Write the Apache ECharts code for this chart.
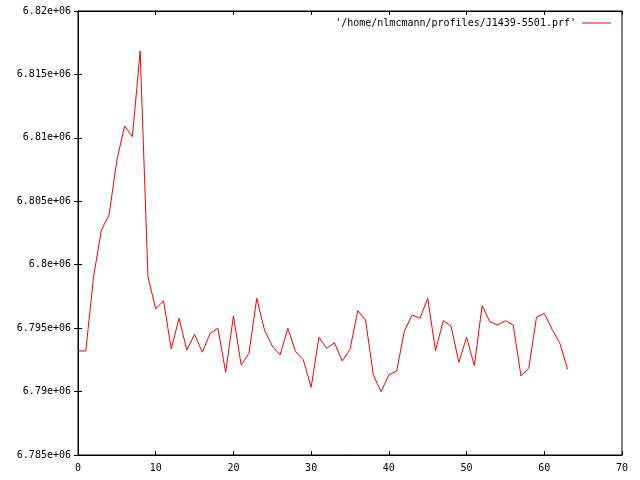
<!DOCTYPE html>
<html>
<head>
<meta charset="utf-8">
<script src="https://cdn.jsdelivr.net/npm/echarts@6/dist/echarts.min.js"></script>
<style>html,body{margin:0;padding:0;background:#fff}#c{width:640px;height:480px}</style>
</head>
<body>
<div id="c"></div>
<script>
const seriesName = "'/home/nlmcmann/profiles/J1439-5501.prf'";
const xValues = [0,1,2,3,4,5,6,7,8,9,10,11,12,13,14,15,16,17,18,19,20,21,22,23,24,25,26,27,28,29,30,31,32,33,34,35,36,37,38,39,40,41,42,43,44,45,46,47,48,49,50,51,52,53,54,55,56,57,58,59,60,61,62,63];
const yValues = [6793200,6793200,6799030,6802740,6803920,6808250,6810940,6810090,6816850,6799060,
  6796510,6797160,6793360,6795780,6793280,6794510,6793100,6794590,6794990,6791520,
  6795960,6792090,6793020,6797350,6794850,6793590,6792880,6794990,6793140,6792490,
  6790340,6794280,6793410,6793850,6792410,6793330,6796380,6795640,6791310,6789990,
  6791310,6791620,6794780,6796040,6795780,6797350,6793220,6795590,6795170,6792310,
  6794280,6792040,6796770,6795510,6795250,6795590,6795250,6791230,6791840,6795860,
  6796170,6794910,6793810,6791760];
const yTickLabels = ['6.785e+06','6.79e+06','6.795e+06','6.8e+06','6.805e+06','6.81e+06','6.815e+06','6.82e+06'];
const xTickLabels = ['0','10','20','30','40','50','60','70'];

const font = 'DejaVu Sans Mono';
const chart = echarts.init(document.getElementById('c'), null, {renderer: 'canvas'});
const tick = {show: true, inside: true, length: 4, lineStyle: {color: '#000', width: 1}};
chart.setOption({
  animation: false,
  backgroundColor: '#fff',
  textStyle: {fontFamily: font},
  grid: {left: 78, right: 18, top: 11, bottom: 25, show: true, borderColor: '#000', borderWidth: 1, backgroundColor: 'transparent'},
  legend: {
    data: [seriesName], right: 29, top: 18, padding: 0, align: 'right', icon: 'rect',
    itemWidth: 29, itemHeight: 1, itemGap: 0,
    textStyle: {fontFamily: font, fontSize: 10, color: '#000', padding: [0, 1, 0, 0]}
  },
  xAxis: [{
    type: 'value', min: 0, max: 70, interval: 10,
    axisLine: {show: true, lineStyle: {color: '#000', width: 1}},
    axisTick: tick, splitLine: {show: false},
    axisLabel: {fontFamily: font, fontSize: 10, color: '#000', margin: 8,
      formatter: (v) => xTickLabels[Math.round(v / 10)]}
  }, {
    type: 'value', position: 'top', min: 0, max: 70, interval: 10,
    axisLine: {show: true, lineStyle: {color: '#000', width: 1}},
    axisTick: tick, splitLine: {show: false}, axisLabel: {show: false}
  }],
  yAxis: [{
    type: 'value', min: 6785000, max: 6820000, interval: 5000,
    axisLine: {show: true, lineStyle: {color: '#000', width: 1}},
    axisTick: tick, splitLine: {show: false},
    axisLabel: {fontFamily: font, fontSize: 10, color: '#000', margin: 7,
      formatter: (v) => yTickLabels[Math.round((v - 6785000) / 5000)]}
  }, {
    type: 'value', position: 'right', min: 6785000, max: 6820000, interval: 5000,
    axisLine: {show: true, lineStyle: {color: '#000', width: 1}},
    axisTick: tick, splitLine: {show: false}, axisLabel: {show: false}
  }],
  series: [{
    name: seriesName, type: 'line', showSymbol: false, symbol: 'none',
    lineStyle: {color: '#ff0000', width: 1}, itemStyle: {color: '#ff0000'},
    data: xValues.map((x, i) => [x, yValues[i]])
  }]
});
</script>
</body>
</html>
